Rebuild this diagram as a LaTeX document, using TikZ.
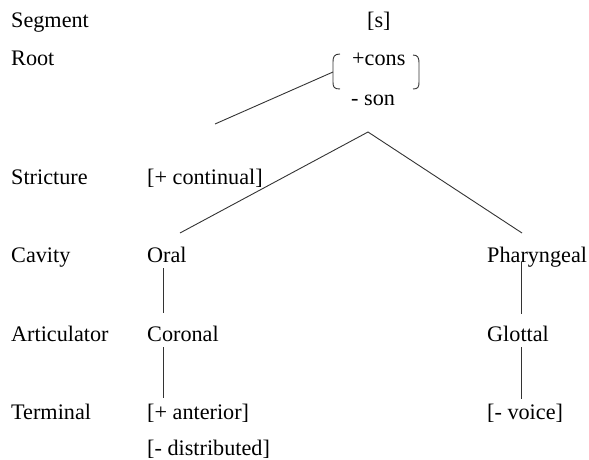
\documentclass[tikz,border=0pt]{standalone}
\usepackage{fontspec}
\setmainfont{Liberation Serif}
\begin{document}
\begin{tikzpicture}[x=1pt,y=-1pt,
  lbl/.style={anchor=base west,inner sep=0pt,font=\fontsize{22.2}{26}\selectfont},
  ln/.style={draw=black!80,line width=0.9pt}]
\useasboundingbox (0,0) rectangle (589,460);
% left labels
\node[lbl] (segment) at (11,28) {Segment};
\node[lbl] (root) at (11,66) {Root};
\node[lbl] (stricture) at (11,184) {Stricture};
\node[lbl] (cavity) at (11,262) {Cavity};
\node[lbl] (articulator) at (11,341) {Articulator};
\node[lbl] (terminal) at (11,419) {Terminal};
% tree
\node[lbl] (s) at (367,28) {[s]};
\node[lbl] (cons) at (352,66) {+cons};
\node[lbl] (son) at (351,106) {- son};
\node[lbl] (cont) at (147,184) {[+ continual]};
\node[lbl] (oral) at (147,262) {Oral};
\node[lbl] (phar) at (487,262) {Pharyngeal};
\node[lbl] (coronal) at (147,341) {Coronal};
\node[lbl] (glottal) at (487,341) {Glottal};
\node[lbl] (ant) at (147,419) {[+ anterior]};
\node[lbl] (dist) at (147,455) {[- distributed]};
\node[lbl] (voice) at (487,419) {[- voice]};
% coordinates
\coordinate (bl) at (333,72);
\coordinate (rootfree) at (215,124);
\coordinate (peak) at (368,132);
\coordinate (oraltop) at (180,233);
\coordinate (phartop) at (522,233);
% brackets
\draw[ln] (340,54) .. controls (334,54) and (333,57) .. (333,62) -- (333,82) .. controls (333,87) and (334,89) .. (340,89);
\draw[ln] (413,55) .. controls (418,55) and (419,58) .. (419,63) -- (419,82) .. controls (419,87) and (418,89) .. (413,89);
% connectors
\draw[ln] (bl) -- (rootfree);
\draw[ln] (oraltop) -- (peak) -- (phartop);
\draw[ln] (163,268) -- (163,313);
\draw[ln] (521,262) -- (521,314);
\draw[ln] (163,347) -- (163,398);
\draw[ln] (521,347) -- (521,399);
\end{tikzpicture}
\end{document}
